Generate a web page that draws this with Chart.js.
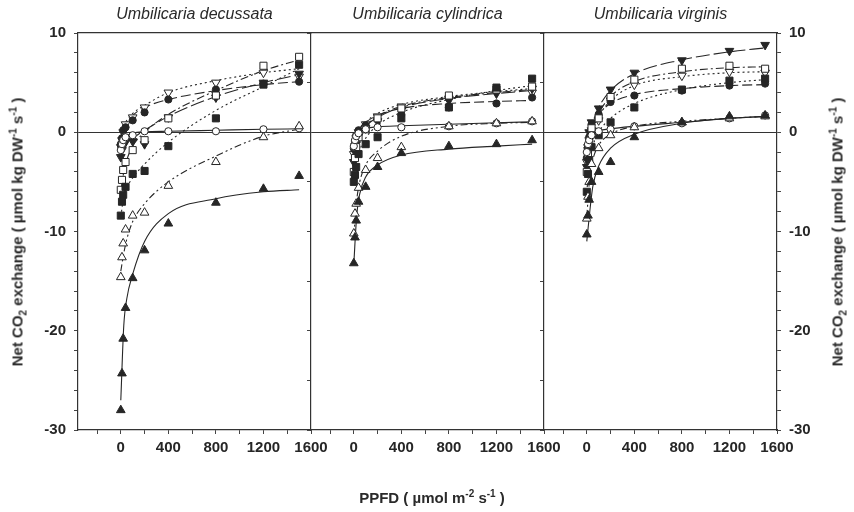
<!DOCTYPE html>
<html>
<head>
<meta charset="utf-8">
<script src="https://cdn.jsdelivr.net/npm/chart.js@4.4.1/dist/chart.umd.min.js"></script>
<style>
  body { margin: 0; background: #fff; }
  #wrap { position: relative; width: 854px; height: 512px; background: #fff; overflow: hidden; }
  #wrap canvas { position: absolute; left: 0; top: 0; }
  .txt { position: absolute; font-family: "Liberation Sans", Arial, sans-serif; color: #2a2a2a; white-space: nowrap; }
  .panelTitle { top: 5px; font-size: 16px; font-style: italic; text-align: center; }
  .axisTitle { font-size: 15px; font-weight: bold; transform: translate(-50%, -50%); }
  .yTitle { transform: translate(-50%, -50%) rotate(-90deg); }
  sub, sup { font-size: 10px; }
</style>
</head>
<body>
<div id="wrap">
  <canvas id="decussata" width="854" height="512"></canvas>
  <canvas id="cylindrica" width="854" height="512"></canvas>
  <canvas id="virginis" width="854" height="512"></canvas>

  <div class="txt panelTitle" style="left:78px; width:233px;">Umbilicaria decussata</div>
  <div class="txt panelTitle" style="left:311px; width:233px;">Umbilicaria cylindrica</div>
  <div class="txt panelTitle" style="left:544px; width:233px;">Umbilicaria virginis</div>

  <div class="txt axisTitle yTitle" style="left:18px; top:232px;">Net CO<sub>2</sub> exchange ( µmol kg DW<sup>-1</sup> s<sup>-1</sup> )</div>
  <div class="txt axisTitle yTitle" style="left:838px; top:232px;">Net CO<sub>2</sub> exchange ( µmol kg DW<sup>-1</sup> s<sup>-1</sup> )</div>
  <div class="txt axisTitle" style="left:432px; top:497px;">PPFD ( µmol m<sup>-2</sup> s<sup>-1</sup> )</div>
</div>

<script>
// PPFD levels of the measured points and of the fitted curves
const ppfd = [0, 10, 20, 40, 100, 200, 400, 800, 1200, 1500];
const fitPpfd = [0, 25, 50, 100, 200, 400, 800, 1200, 1500];

const xTickValues = [-200, 0, 200, 400, 600, 800, 1000, 1200, 1400, 1600];

// Umbilicaria decussata - measured points
const decTriFilled = [-28.0, -24.3, -20.8, -17.7, -14.7, -11.9, -9.2, -7.1, -5.7, -4.4];
const decTriOpen = [-14.6, -12.6, -11.2, -9.8, -8.4, -8.1, -5.4, -3.0, -0.5, 0.6];
const decCircOpen = [-1.8, -1.2, -0.8, -0.5, -0.3, 0.1, 0.1, 0.1, 0.3, 0.4];
const decSqFilled = [-8.4, -7.0, -6.3, -5.5, -4.2, -3.9, -1.4, 1.4, 4.8, 6.8];
const decSqOpen = [-5.8, -4.8, -3.8, -3.0, -1.8, -0.8, 1.4, 3.7, 6.7, 7.6];
const decCircFilled = [-1.2, -0.6, 0.2, 0.5, 1.2, 2.0, 3.3, 4.3, 4.9, 5.1];
const decInvFilled = [-2.5, -1.8, -1.3, -1.0, -0.9, -1.2, 1.5, 3.5, 5.0, 5.9];
const decInvOpen = [-1.5, -0.8, 0.0, 0.8, 1.5, 2.5, 4.0, 5.0, 6.0, 5.6];
// Umbilicaria decussata - fitted curves
const decTriFilledFit = [-27.0, -19.5, -16.8, -14.3, -11.0, -8.2, -6.7, -6.0, -5.8];
const decTriOpenFit = [-14.0, -12.2, -10.8, -9.0, -7.2, -5.0, -2.4, -0.4, 0.3];
const decCircOpenFit = [-1.6, -0.8, -0.4, -0.1, 0.05, 0.1, 0.2, 0.3, 0.35];
const decSqFilledFit = [-8.5, -6.5, -5.6, -4.6, -3.2, -1.0, 2.2, 4.6, 6.4];
const decSqOpenFit = [-6.0, -4.0, -2.8, -1.4, 0.0, 1.8, 4.2, 6.2, 7.3];
const decCircFilledFit = [-1.2, 0.2, 0.9, 1.7, 2.5, 3.3, 4.2, 4.8, 5.1];
const decInvFilledFit = [-2.5, -1.6, -1.0, -0.6, 0.2, 1.6, 3.6, 5.0, 5.8];
const decInvOpenFit = [-1.4, 0.5, 1.2, 1.9, 2.7, 4.0, 5.2, 6.0, 6.4];

// Umbilicaria cylindrica - measured points
const cylTriFilled = [-13.2, -10.6, -8.9, -7.0, -5.5, -3.5, -2.1, -1.4, -1.2, -0.8];
const cylTriOpen = [-10.2, -8.2, -7.2, -5.6, -3.8, -2.6, -1.5, 0.6, 0.9, 1.1];
const cylCircOpen = [-1.4, -0.8, -0.4, -0.1, 0.3, 0.5, 0.5, 0.6, 0.9, 1.1];
const cylSqFilled = [-5.0, -4.3, -3.5, -2.2, -1.2, -0.5, 1.4, 2.5, 4.5, 5.4];
const cylSqOpen = [-4.0, -2.6, -1.5, -0.5, 0.3, 1.4, 2.4, 3.7, 4.3, 4.6];
const cylCircFilled = [-1.6, -0.9, -0.3, 0.2, 0.7, 1.3, 1.8, 2.5, 2.9, 3.5];
const cylInvFilled = [-3.0, -2.0, -1.2, -0.4, 0.4, 1.1, 2.2, 3.2, 3.9, 4.4];
const cylInvOpen = [-2.2, -1.4, -0.6, 0.0, 0.8, 1.6, 2.6, 3.4, 4.0, 4.0];
// Umbilicaria cylindrica - fitted curves
const cylTriFilledFit = [-13.3, -8.3, -6.2, -4.5, -3.3, -2.3, -1.7, -1.4, -1.2];
const cylTriOpenFit = [-10.5, -6.8, -5.0, -3.3, -1.9, -0.4, 0.6, 0.9, 1.0];
const cylCircOpenFit = [-1.2, -0.2, 0.2, 0.4, 0.55, 0.65, 0.8, 0.95, 1.05];
const cylSqFilledFit = [-5.0, -3.0, -1.8, -0.6, 0.7, 2.0, 3.3, 4.2, 4.7];
const cylSqOpenFit = [-4.0, -1.5, -0.4, 0.6, 1.6, 2.6, 3.5, 4.0, 4.3];
const cylCircFilledFit = [-1.5, -0.2, 0.4, 1.0, 1.7, 2.4, 2.9, 3.1, 3.2];
const cylInvFilledFit = [-3.0, -1.2, -0.3, 0.6, 1.5, 2.5, 3.4, 3.9, 4.2];
const cylInvOpenFit = [-2.2, -0.6, 0.2, 1.0, 1.9, 2.8, 3.6, 4.1, 4.4];

// Umbilicaria virginis - measured points
const virTriFilled = [-10.3, -8.4, -6.8, -5.0, -4.0, -3.0, -0.5, 1.0, 1.6, 1.7];
const virTriOpen = [-8.7, -6.5, -5.0, -3.2, -1.6, -0.3, 0.5, 1.0, 1.4, 1.6];
const virCircOpen = [-2.0, -1.2, -0.8, -0.3, 0.1, 0.3, 0.6, 0.9, 1.4, 1.7];
const virSqFilled = [-6.0, -4.2, -2.8, -1.5, -0.3, 1.0, 2.5, 4.3, 5.2, 5.4];
const virSqOpen = [-4.0, -2.2, -0.9, 0.4, 1.4, 3.55, 5.3, 6.4, 6.7, 6.4];
const virCircFilled = [-2.6, -1.5, -0.5, 0.8, 1.8, 3.05, 3.7, 4.2, 4.7, 4.9];
const virInvFilled = [-3.5, -1.5, 0.0, 1.0, 2.4, 4.3, 6.0, 7.25, 8.2, 8.8];
const virInvOpen = [-3.0, -1.8, -0.8, 0.2, 1.2, 3.2, 4.8, 5.7, 6.1, 6.0];
// Umbilicaria virginis - fitted curves
const virTriFilledFit = [-11.0, -8.0, -5.5, -3.4, -1.6, -0.2, 0.9, 1.4, 1.6];
const virTriOpenFit = [-8.5, -4.5, -2.8, -1.3, -0.2, 0.6, 1.1, 1.4, 1.6];
const virCircOpenFit = [-2.0, -0.6, -0.1, 0.15, 0.35, 0.6, 1.0, 1.4, 1.6];
const virSqFilledFit = [-6.0, -2.8, -1.4, 0.0, 1.4, 2.9, 4.3, 5.0, 5.3];
const virSqOpenFit = [-4.0, -0.8, 0.4, 1.9, 3.6, 5.1, 6.1, 6.5, 6.6];
const virCircFilledFit = [-2.6, -0.3, 0.7, 1.8, 2.9, 3.8, 4.4, 4.7, 4.8];
const virInvFilledFit = [-4.0, -0.6, 0.9, 2.5, 4.2, 5.9, 7.3, 8.1, 8.5];
const virInvOpenFit = [-3.0, -0.9, 0.3, 1.6, 3.2, 4.7, 5.6, 6.0, 6.1];

// marker and line style of every series (same order as the arrays above)
const seriesStyles = [
    { pointStyle: "triangle", rotation: 0, filled: true, radius: 5, dash: [] },
    { pointStyle: "triangle", rotation: 0, filled: false, radius: 5, dash: [7, 3, 2, 3, 2, 3] },
    { pointStyle: "circle", rotation: 0, filled: false, radius: 3.6, dash: [] },
    { pointStyle: "rect", rotation: 0, filled: true, radius: 5, dash: [2, 3] },
    { pointStyle: "rect", rotation: 0, filled: false, radius: 5, dash: [8, 3, 2, 3] },
    { pointStyle: "circle", rotation: 0, filled: true, radius: 3.6, dash: [10, 4] },
    { pointStyle: "triangle", rotation: 180, filled: true, radius: 5, dash: [14, 4] },
    { pointStyle: "triangle", rotation: 180, filled: false, radius: 5, dash: [2, 3] },
];

const panels = [
    {
        id: "decussata",
        points: [decTriFilled, decTriOpen, decCircOpen, decSqFilled, decSqOpen, decCircFilled, decInvFilled, decInvOpen],
        fits: [decTriFilledFit, decTriOpenFit, decCircOpenFit, decSqFilledFit, decSqOpenFit, decCircFilledFit, decInvFilledFit, decInvOpenFit],
        padLeft: 0, padRight: 543, leftWidth: 78, leftLabels: true, rightAxis: false,
    },
    {
        id: "cylindrica",
        points: [cylTriFilled, cylTriOpen, cylCircOpen, cylSqFilled, cylSqOpen, cylCircFilled, cylInvFilled, cylInvOpen],
        fits: [cylTriFilledFit, cylTriOpenFit, cylCircOpenFit, cylSqFilledFit, cylSqOpenFit, cylCircFilledFit, cylInvFilledFit, cylInvOpenFit],
        padLeft: 311, padRight: 310, leftWidth: 0, leftLabels: false, rightAxis: false,
    },
    {
        id: "virginis",
        points: [virTriFilled, virTriOpen, virCircOpen, virSqFilled, virSqOpen, virCircFilled, virInvFilled, virInvOpen],
        fits: [virTriFilledFit, virTriOpenFit, virCircOpenFit, virSqFilledFit, virSqOpenFit, virCircFilledFit, virInvFilledFit, virInvOpenFit],
        padLeft: 544, padRight: 0, leftWidth: 0, leftLabels: false, rightAxis: true,
    },
];

const ink = "#262626";
const tickFont = { family: '"Liberation Sans", Arial, sans-serif', size: 15, weight: "bold" };

function buildDatasets(panel) {
    const datasets = [];
    // markers first so they are drawn on top of the curves
    seriesStyles.forEach((s, i) => {
        datasets.push({
            data: ppfd.map((x, j) => ({ x: x, y: panel.points[i][j] })),
            showLine: false,
            pointStyle: s.pointStyle,
            rotation: s.rotation,
            pointRadius: s.radius,
            pointBorderWidth: 1,
            pointBorderColor: ink,
            pointBackgroundColor: s.filled ? ink : "#ffffff",
            order: 0,
        });
    });
    seriesStyles.forEach((s, i) => {
        datasets.push({
            data: fitPpfd.map((x, j) => ({ x: x, y: panel.fits[i][j] })),
            borderColor: ink,
            borderWidth: 1.1,
            borderDash: s.dash,
            pointRadius: 0,
            cubicInterpolationMode: "monotone",
            fill: false,
            order: 1,
        });
    });
    return datasets;
}

function yAxis(position, width, showLabels, step) {
    return {
        type: "linear",
        position: position,
        min: -30,
        max: 10,
        afterBuildTicks: (axis) => {
            const ticks = [];
            for (let v = -30; v <= 10; v += step) ticks.push({ value: v });
            axis.ticks = ticks;
        },
        afterFit: (axis) => { axis.width = width; },
        ticks: {
            display: showLabels,
            font: tickFont,
            color: ink,
            padding: 8,
            autoSkip: false,
            callback: (v) => (v % 10 === 0 ? v : ""),
        },
        grid: {
            color: (ctx) => (ctx.tick && ctx.tick.value === 0 ? "#333333" : "rgba(0,0,0,0)"),
            tickColor: "#444444",
            tickLength: 4,
            lineWidth: 1,
        },
        border: { color: "#333333", width: 1.2 },
    };
}

function buildScales(panel) {
    const scales = {
        x: {
            type: "linear",
            position: "bottom",
            min: -360,
            max: 1600,
            afterBuildTicks: (axis) => { axis.ticks = xTickValues.map((v) => ({ value: v })); },
            afterFit: (axis) => { axis.height = 82; },
            ticks: {
                font: tickFont,
                color: ink,
                padding: 5,
                maxRotation: 0,
                autoSkip: false,
                callback: (v) => (v >= 0 && v % 400 === 0 ? v : ""),
            },
            grid: { drawOnChartArea: false, tickLength: 4, color: "#444444" },
            border: { color: "#333333", width: 1.2 },
        },
        xTop: {
            type: "linear",
            position: "top",
            min: -360,
            max: 1600,
            afterFit: (axis) => { axis.height = 0; },
            ticks: { display: false },
            grid: { display: false },
            border: { color: "#333333", width: 1.2 },
        },
        y: yAxis("left", panel.leftWidth, panel.leftLabels, panel.leftLabels ? 2 : 5),
    };
    if (panel.rightAxis) {
        scales.yRight = yAxis("right", 77, true, 2);
    }
    return scales;
}

Chart.defaults.font.family = '"Liberation Sans", Arial, sans-serif';

panels.forEach((panel) => {
    const ctx = document.getElementById(panel.id);
    new Chart(ctx, {
        type: "line",
        data: { datasets: buildDatasets(panel) },
        options: {
            responsive: false,
            animation: false,
            layout: { padding: { left: panel.padLeft, right: panel.padRight, top: 33, bottom: 0 } },
            plugins: { legend: { display: false }, tooltip: { enabled: false } },
            scales: buildScales(panel),
        },
    });
});
</script>
</body>
</html>
